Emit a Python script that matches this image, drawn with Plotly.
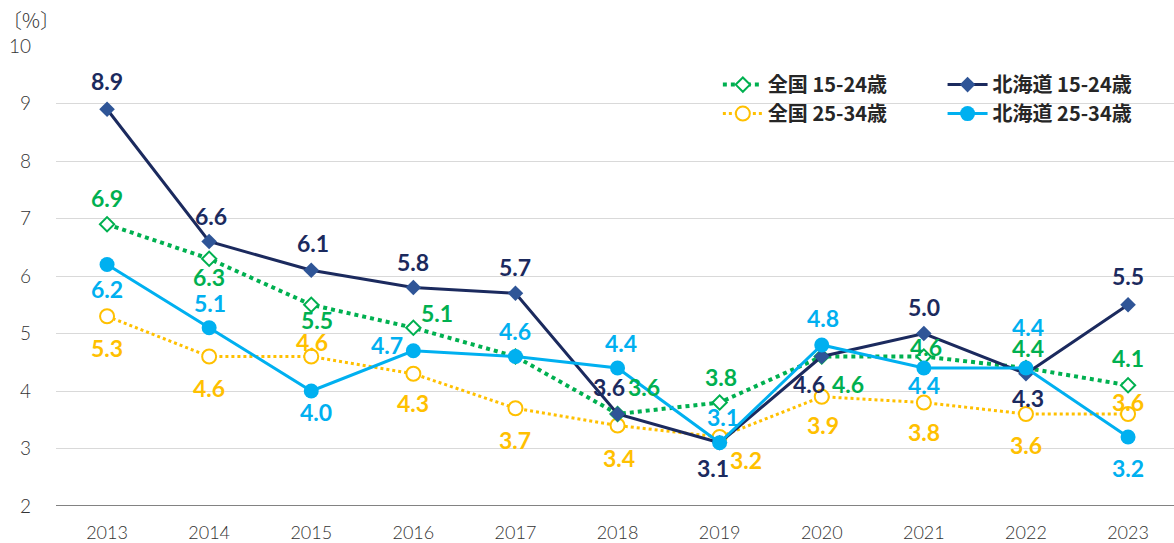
import plotly.graph_objects as go

years = ["2013", "2014", "2015", "2016", "2017", "2018", "2019", "2020", "2021", "2022", "2023"]
zenkoku_15_24 = [6.9, 6.3, 5.5, 5.1, 4.6, 3.6, 3.8, 4.6, 4.6, 4.4, 4.1]
zenkoku_25_34 = [5.3, 4.6, 4.6, 4.3, 3.7, 3.4, 3.2, 3.9, 3.8, 3.6, 3.6]
hokkaido_15_24 = [8.9, 6.6, 6.1, 5.8, 5.7, 3.6, 3.1, 4.6, 5.0, 4.3, 5.5]
hokkaido_25_34 = [6.2, 5.1, 4.0, 4.7, 4.6, 4.4, 3.1, 4.8, 4.4, 4.4, 3.2]
y_ticks = [2, 3, 4, 5, 6, 7, 8, 9, 10]

GREEN = "#00B050"
YELLOW = "#FFC000"
NAVY = "#1B2A5E"
NAVY_MK = "#2F5597"
CYAN = "#00B0F0"

# label offsets (pixels: dx right, dy up); None = no label
off_z1524 = [(0, 26), (0, -18), (6, -15), (24, 15), None, (26, 27), (1, 26), (26, -27), (2, 10), (2, 20), (0, 27)]
off_z2534 = [(0, -32), (0, -31), (1, 15), (0, -29), (0, -32), (1, -32), (26, -23), (1, -28), (0, -29), (0, -31), (0, 12)]
off_h1524 = [(0, 28), (2, 26), (2, 27), (0, 26), (0, 26), (-9, 27), (-7, -25), (-13, -27), (0, 27), (2, -24), (0, 29)]
off_h2534 = [(0, -24), (1, 25), (5, -21), (-26, 6), (0, 26), (3, 25), (3, 26), (1, 27), (0, -17), (2, 41), (0, -31)]

FONT = "Lato"

fig = go.Figure()
fig.add_trace(go.Scatter(
    x=years, y=zenkoku_25_34, name="全国 25-34歳", mode="lines+markers",
    line=dict(color=YELLOW, width=3, dash="dot"),
    marker=dict(symbol="circle", size=14, color="white", line=dict(width=2, color=YELLOW)),
    legend="legend", legendrank=2, cliponaxis=False))
fig.add_trace(go.Scatter(
    x=years, y=zenkoku_15_24, name="全国 15-24歳", mode="lines+markers",
    line=dict(color=GREEN, width=4, dash="dot"),
    marker=dict(symbol="diamond", size=11, color="white", line=dict(width=2, color=GREEN)),
    legend="legend", legendrank=1, cliponaxis=False))
fig.add_trace(go.Scatter(
    x=years, y=hokkaido_15_24, name="北海道 15-24歳", mode="lines+markers",
    line=dict(color=NAVY, width=3),
    marker=dict(symbol="diamond", size=12, color=NAVY_MK),
    legend="legend2", legendrank=1, cliponaxis=False))
fig.add_trace(go.Scatter(
    x=years, y=hokkaido_25_34, name="北海道 25-34歳", mode="lines+markers",
    line=dict(color=CYAN, width=3),
    marker=dict(symbol="circle", size=15, color=CYAN),
    legend="legend2", legendrank=2, cliponaxis=False))

annotations = []
for vals, offs, col in [(zenkoku_25_34, off_z2534, YELLOW), (zenkoku_15_24, off_z1524, GREEN),
                        (hokkaido_15_24, off_h1524, NAVY), (hokkaido_25_34, off_h2534, CYAN)]:
    for i, (v, o) in enumerate(zip(vals, offs)):
        if o is None:
            continue
        annotations.append(dict(
            x=i, y=v, xref="x", yref="y", text=f"{v:.1f}", showarrow=False,
            xanchor="center", yanchor="middle", xshift=o[0], yshift=o[1],
            font=dict(family=FONT, size=23, color=col, weight="bold")))

annotations.append(dict(
    xref="paper", yref="paper", x=-0.05, y=1.057, xanchor="left", yanchor="middle",
    text="〔%〕", showarrow=False,
    font=dict(family="Noto Sans CJK JP", size=20, color="#333333", weight=300)))

legend_font = dict(family="Noto Sans CJK JP", size=20, color="#262626", weight="bold")

fig.update_layout(
    width=1174, height=543,
    margin=dict(l=56, r=0, t=46, b=37),
    paper_bgcolor="white", plot_bgcolor="white",
    xaxis=dict(type="category", range=[-0.5, 10.45], showgrid=False, zeroline=False,
               showline=False, ticks="", tickfont=dict(family=FONT, size=18, color="#333333", weight=300),
               ticklabelstandoff=14),
    yaxis=dict(range=[2, 10], tickvals=y_ticks, showgrid=True, gridcolor="#D9D9D9", gridwidth=1,
               zeroline=False, showline=False, ticks="",
               tickfont=dict(family=FONT, size=19, color="#333333", weight=300),
               ticklabelstandoff=24),
    legend=dict(x=0.592, y=0.9585, xanchor="left", yanchor="top", bgcolor="rgba(0,0,0,0)",
                font=legend_font, tracegroupgap=0, itemwidth=40, traceorder="normal"),
    legend2=dict(x=0.793, y=0.9585, xanchor="left", yanchor="top", bgcolor="rgba(0,0,0,0)",
                 font=legend_font, tracegroupgap=0, itemwidth=40, traceorder="normal"),
    annotations=annotations,
    shapes=[dict(type="line", xref="paper", yref="y", x0=0, x1=1, y0=2, y1=2,
                 line=dict(color="#595959", width=1.5))],
    showlegend=True,
)

fig.write_html("out.html")
